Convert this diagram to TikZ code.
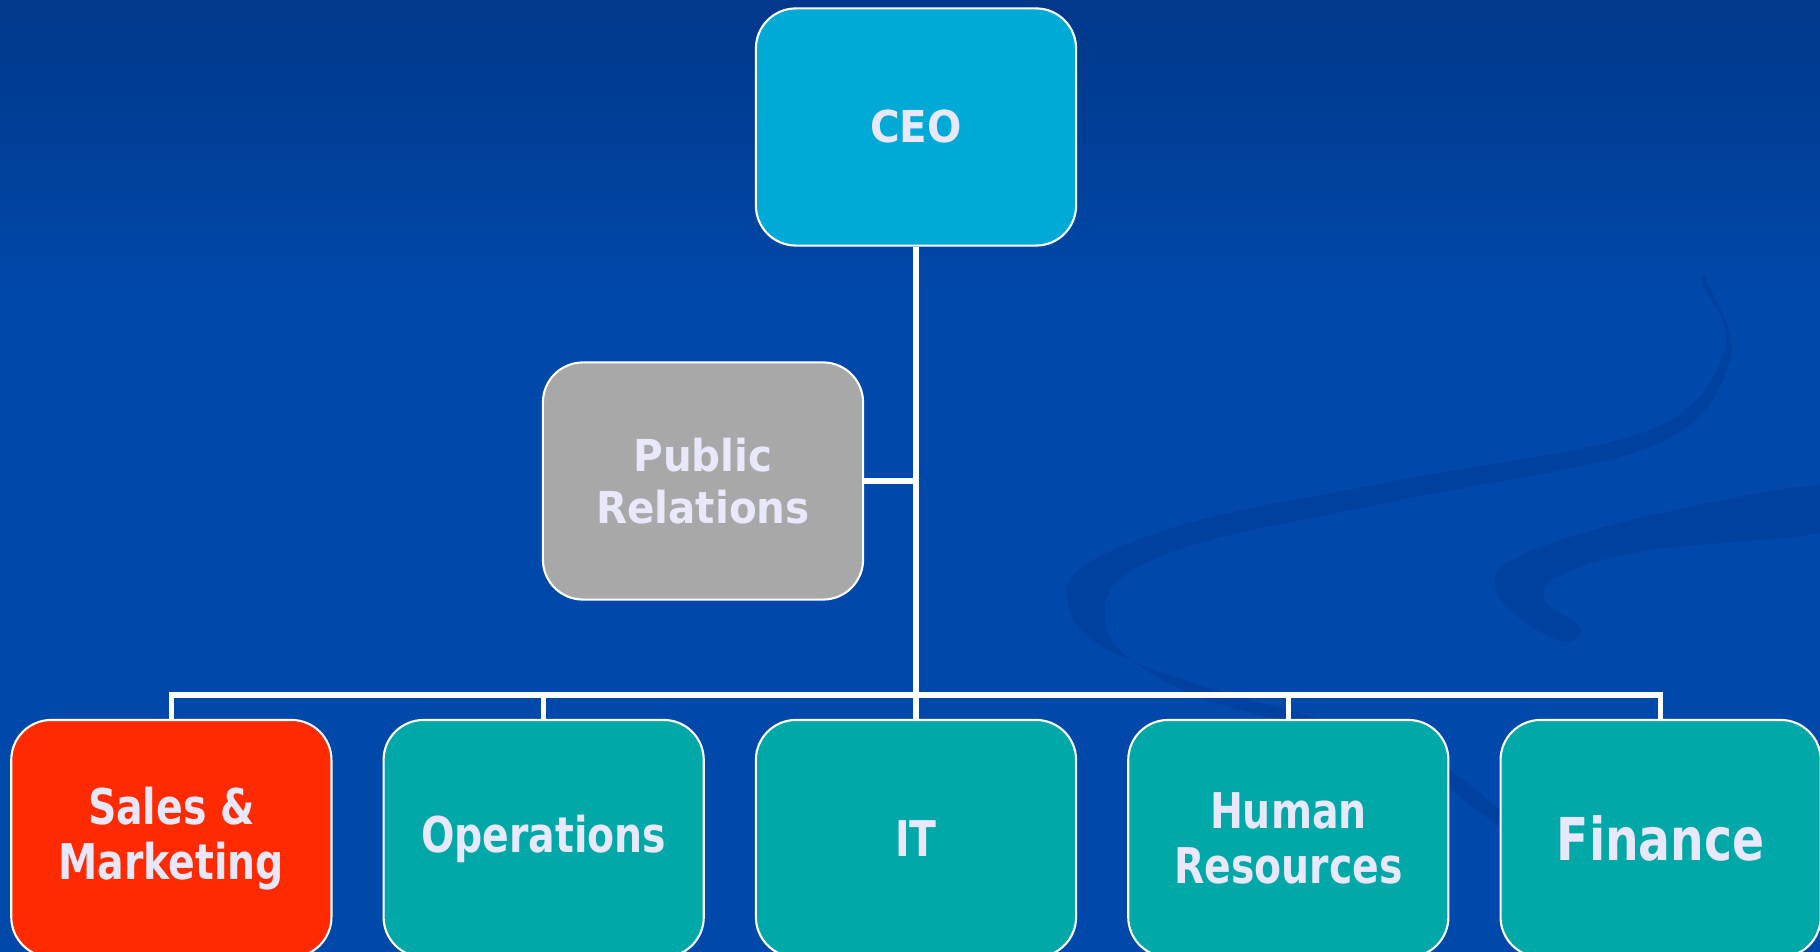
\documentclass[tikz,border=0pt]{standalone}
\usepackage{fontspec}
\usepackage{tikz}
\usetikzlibrary{positioning}
\setmainfont{DejaVu Sans}
\newfontfamily\headfont[FakeStretch=0.92]{DejaVu Sans}
\newfontfamily\deptfont[FakeStretch=0.8]{DejaVu Sans}
\definecolor{navy}{RGB}{0,56,138}
\definecolor{royal}{RGB}{0,72,170}
\definecolor{swirl}{RGB}{0,56,146}
\definecolor{sky}{RGB}{0,170,214}
\definecolor{teal}{RGB}{0,168,168}
\definecolor{grey}{RGB}{168,168,168}
\definecolor{red}{RGB}{255,42,0}
\definecolor{lavender}{RGB}{232,232,250}

\begin{document}
\begin{tikzpicture}[x=0.01cm, y=-0.01cm,
	box/.style={draw=white, line width=0.6pt, rounded corners=0.4cm, minimum width=3.2cm,
	    minimum height=2.37cm, inner sep=0pt, align=center, text=lavender},
	top box/.style={box, font=\headfont\bfseries\fontsize{12.5}{15}\selectfont},
	dept/.style={box, fill=teal, font=\deptfont\bfseries\fontsize{14}{15.5}\selectfont},
	link/.style={draw=white, line width=1.6pt},]

    \clip (0,0) rectangle (1820,952);
    \shade[top color=navy, bottom color=royal] (0,0) rectangle (1820,300);
    \fill[royal] (0,300) rectangle (1820,952);
    \fill[swirl, opacity=0.4] plot[smooth cycle, tension=0.6] coordinates {
	(1703,284) (1725,350) (1650,430) (1400,480) (1200,520) (1085,565) (1068,605)
	(1100,645) (1200,685) (1400,745) (1500,810) (1560,880)
	(1480,812) (1385,752) (1200,697) (1120,650) (1105,610) (1125,575) (1210,540)
	(1400,500) (1655,445) (1730,360) (1708,284)};
    \fill[swirl, opacity=0.4] plot[smooth cycle, tension=0.6] coordinates {
	(1830,485) (1640,518) (1515,558) (1496,590) (1525,622) (1565,642)
	(1580,628) (1545,600) (1560,575) (1650,550) (1830,530)};

    \node[top box, fill=sky] (ceo) at (916,127) {CEO};
    \node[top box, fill=grey] (pr) at (703,481) {Public\\Relations};
    \node[dept, below=4.72cm of ceo] (it) {IT};
    \node[dept, left=0.5cm of it] (ops) {Operations};
    \node[dept, fill=red, left=0.5cm of ops] (sales) {Sales \&\\Marketing};
    \node[dept, right=0.5cm of it] (hr) {Human\\Resources};
    \node[dept, right=0.5cm of hr, font=\deptfont\bfseries\fontsize{16.8}{18}\selectfont] (fin) {Finance};

    \draw[link] (ceo.south) -- (it.north);
    \draw[link] (pr.east) -- (pr.east -| ceo.south);
    \draw[link] (sales.north) |- ([yshift=0.24cm]it.north) -| (fin.north);
    \draw[link] ([yshift=0.24cm]ops.north) -- (ops.north);
    \draw[link] ([yshift=0.24cm]hr.north) -- (hr.north);
\end{tikzpicture}
\end{document}
